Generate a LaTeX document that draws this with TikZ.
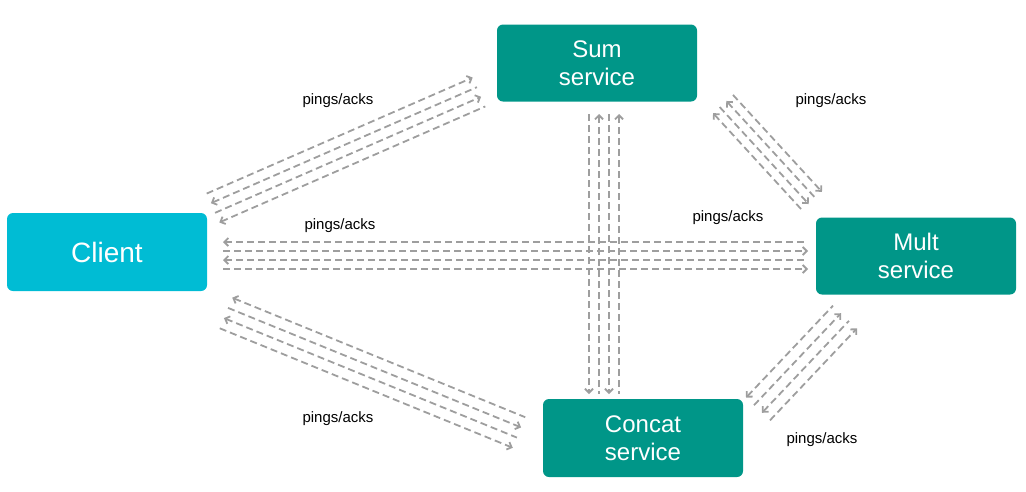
\documentclass[tikz,border=0pt]{standalone}
\usepackage{fontspec}
\usepackage{xcolor}
\usepackage{tikz}
\setmainfont{Liberation Sans}
\usetikzlibrary{arrows.meta,calc}

\definecolor{clientcol}{HTML}{00BCD4}
\definecolor{servicecol}{HTML}{009688}
\definecolor{linkcol}{HTML}{9E9E9E}

\begin{document}
\begin{tikzpicture}[x=1pt,y=-1pt]
            \tikzset{box/.style = {fill=servicecol, text=white, rounded corners=6pt, minimum width=200pt, minimum height=77pt, inner sep=0pt, align=center, font=\fontsize{24}{28}\selectfont}}
            \tikzset{ping/.style = {draw=linkcol, line width=1.8pt, dash pattern=on 7pt off 4pt, >={Straight Barb[length=4pt,width=8pt]}}}
            \tikzset{lbl/.style = {font=\fontsize{15}{18}\selectfont}}

            \useasboundingbox (0,0) rectangle (1026,491);

            % vertices
            \node[box, fill=clientcol, minimum height=78pt, font=\fontsize{28}{32}\selectfont] (client) at (107,252) {Client};
            \node[box] (sum) at (597,63) {Sum\\service};
            \node[box] (mult) at (916,256) {Mult\\service};
            \node[box, minimum height=78pt] (concat) at (643,438) {Concat\\service};

            % ends of the bundles
            \coordinate (cs1) at (213,208);   \coordinate (cs2) at (479,92);
            \coordinate (cm1) at (223,255.5); \coordinate (cm2) at (808,255.5);
            \coordinate (sc1) at (604,114);   \coordinate (sc2) at (604,394);
            \coordinate (cc1) at (226,313);   \coordinate (cc2) at (519,432.5);
            \coordinate (sm1) at (723,104);   \coordinate (sm2) at (812,201);
            \coordinate (mc1) at (758,409);   \coordinate (mc2) at (845,317);

            % edges
            \foreach \a/\b/\w/\t in {cs1/cs2/10.5/1, cm1/cm2/9/-1, sc1/sc2/10/-1, cc1/cc2/11/-1, sm1/sm2/9/1, mc1/mc2/11/-1}
            {
              \foreach \k/\tip in {1.5/->, 0.5/<-, -0.5/->, -1.5/<-}
              {
                \pgfmathsetmacro\o{\t*\k*\w}
                \draw[ping,\tip] ($(\a)!\o pt!90:(\b)$) -- ($(\b)!\o pt!-90:(\a)$);
              }
            }

            % labels
            \node[lbl] (l-cs) at (338,101) {pings/acks};
            \node[lbl] (l-cm) at (340,226) {pings/acks};
            \node[lbl] (l-sm) at (831,101) {pings/acks};
            \node[lbl] (l-ms) at (728,218) {pings/acks};
            \node[lbl] (l-cc) at (338,419) {pings/acks};
            \node[lbl] (l-mc) at (822,440) {pings/acks};

          \end{tikzpicture}
\end{document}
